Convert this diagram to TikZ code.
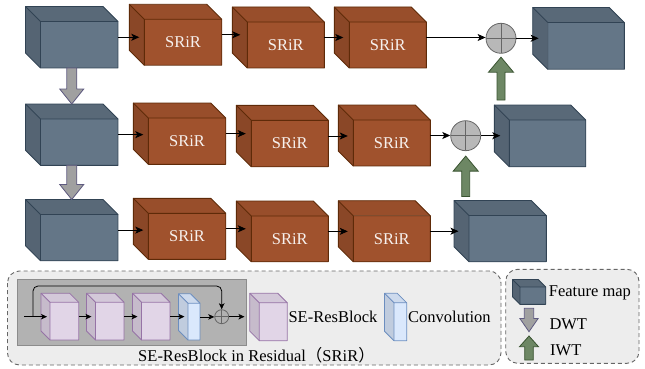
\documentclass[tikz,border=0pt]{standalone}
\usepackage{fontspec}
\setmainfont{Liberation Serif}
\newfontfamily\cjk{Noto Sans CJK SC}
\usetikzlibrary{arrows.meta,calc}
\definecolor{fmc}{HTML}{647687}
\definecolor{fmd}{HTML}{314354}
\definecolor{src}{HTML}{A0522D}
\definecolor{srd}{HTML}{5E2A08}
\definecolor{puc}{HTML}{E1D5E7}
\definecolor{pud}{HTML}{9673A6}
\definecolor{blc}{HTML}{DAE8FC}
\definecolor{bld}{HTML}{6C8EBF}
\definecolor{grc}{HTML}{6D8764}
\definecolor{grd}{HTML}{3A5431}
\definecolor{gyc}{HTML}{A0A0A0}
\definecolor{gyd}{HTML}{5E5A80}
\tikzset{
  fmleft/.style={fill=fmc!85!black}, fmtop/.style={fill=fmc!89!black}, fmfront/.style={fill=fmc},
  fmline/.style={draw=fmd, line width=0.9pt, line join=round}, fmtext/.style={},
  srleft/.style={fill=src!86!black}, srtop/.style={fill=src!95!black}, srfront/.style={fill=src},
  srline/.style={draw=srd, line width=0.9pt, line join=round},
  srtext/.style={text=white!92!src, font=\fontsize{16.5}{18}\selectfont, inner sep=0pt},
  puleft/.style={fill=puc!88!black}, putop/.style={fill=puc!94!black}, pufront/.style={fill=puc},
  puline/.style={draw=pud, line width=0.8pt, line join=round}, putext/.style={},
  blleft/.style={fill=blc!88!black}, bltop/.style={fill=blc!94!black}, blfront/.style={fill=blc},
  blline/.style={draw=bld, line width=0.8pt, line join=round}, bltext/.style={},
  conn/.style={-{Stealth[length=8pt,width=7pt,inset=2pt]}, line width=0.9pt},
  sconn/.style={-{Stealth[length=6pt,width=5.5pt,inset=1.5pt]}, line width=0.8pt},
  plus/.style={circle, draw=black!60, fill=black!28, line width=0.8pt, minimum size=30pt, inner sep=0pt,
    path picture={\draw[black!60, line width=0.8pt] (path picture bounding box.north) -- (path picture bounding box.south)
      (path picture bounding box.west) -- (path picture bounding box.east);}},
  smallplus/.style={plus, minimum size=14pt, fill=black!30},
  iwt/.style={fill=grc, draw=grd, line width=0.8pt, line join=miter},
  dwt/.style={fill=gyc, draw=gyd, line width=0.8pt, line join=miter},
  panelbox/.style={fill=black!7, draw=black!60, dashed, dash pattern=on 4pt off 3pt, line width=0.9pt, rounded corners=12pt},
  innerbox/.style={fill=black!30, draw=black!45, line width=0.8pt},
  lbl/.style={font=\fontsize{16.5}{18}\selectfont, inner sep=0pt}
}
% name, x1, y1, x2, y2 (front face), depth, style prefix, label
\newcommand\cubebox[8]{%
  \path[#7left] (#2,#3) -- ({#2-#6},{#3-#6}) -- ({#2-#6},{#5-#6}) -- (#2,#5) -- cycle;
  \path[#7top] (#2,#3) -- ({#2-#6},{#3-#6}) -- ({#4-#6},{#3-#6}) -- (#4,#3) -- cycle;
  \path[#7front] (#2,#3) rectangle (#4,#5);
  \draw[#7line] ({#2-#6},{#3-#6}) -- ({#4-#6},{#3-#6}) -- (#4,#3) -- (#4,#5) -- (#2,#5) -- ({#2-#6},{#5-#6}) -- cycle;
  \draw[#7line] ({#2-#6},{#3-#6}) -- (#2,#3) -- (#4,#3) (#2,#3) -- (#2,#5);
  \node[inner sep=0pt, outer sep=0pt, minimum width={#4-#2+#6}, minimum height={#5-#3+#6}] (#1) at ({(#2-#6+#4)/2},{(#3-#6+#5)/2}) {};
  \if\relax\detokenize{#8}\relax\else
    \node[#7text] (#1-t) at ({(#2+#4)/2},{(#3+#5)/2}) {#8};
  \fi
}
% start, tip, half shaft, half head, head offset from tip, style
\newcommand\vblock[6]{%
  \draw[#6] ($(#1)+(-#3,0)$) -- ($(#2)+(-#3,#5)$) -- ($(#2)+(-#4,#5)$) -- (#2) -- ($(#2)+(#4,#5)$) -- ($(#2)+(#3,#5)$) -- ($(#1)+(#3,0)$) -- cycle;
}
\begin{document}
\begin{tikzpicture}[x=1pt,y=-1pt]
\useasboundingbox (0,0) rectangle (645,369);
% row 1
\cubebox{f1}{40.5}{21.5}{118}{68}{15}{fm}{}
\cubebox{s11}{144.3}{19.3}{221.7}{65.3}{15}{sr}{SRiR}
\cubebox{s12}{247.3}{22}{324.3}{68}{15}{sr}{SRiR}
\cubebox{s13}{349.3}{22}{426.3}{68}{15}{sr}{SRiR}
\cubebox{o1}{547.7}{22.5}{624.3}{69.3}{15}{fm}{}
\node[plus] (p1) at (501,38.3) {};
% row 2
\cubebox{f2}{40.5}{119}{118}{165.3}{15}{fm}{}
\cubebox{s21}{148.3}{118}{225.7}{164.3}{15}{sr}{SRiR}
\cubebox{s22}{251.3}{120.3}{328.3}{166.7}{15}{sr}{SRiR}
\cubebox{s23}{353.3}{120}{430.3}{166}{15}{sr}{SRiR}
\cubebox{o2}{509.3}{120}{585.7}{166.7}{15}{fm}{}
\node[plus] (p2) at (465.7,135.7) {};
% row 3
\cubebox{f3}{40.5}{214.5}{118}{260.7}{15}{fm}{}
\cubebox{s31}{148.3}{213.3}{225.7}{259.3}{15}{sr}{SRiR}
\cubebox{s32}{251.3}{216}{328.3}{261.7}{15}{sr}{SRiR}
\cubebox{s33}{353.3}{215.7}{430.3}{261.7}{15}{sr}{SRiR}
\cubebox{o3}{469}{215.5}{546.3}{261.7}{15}{fm}{}
% connectors row 1
\draw[conn] (f1.east) -- ($(f1.east -| s11.west)+(10,0)$);
\draw[conn] (s11.east) -- ($(s11.east -| s12.west)+(8,0)$);
\draw[conn] (s12.east) -- ($(s12.east -| s13.west)+(9,0)$);
\draw[conn] (s13.east) -- (s13.east -| p1.west);
\draw[conn] (p1.east) -- ($(p1.east -| o1.west)+(6,0)$);
% connectors row 2
\draw[conn] (f2.east) -- ($(f2.east -| s21.west)+(10,0)$);
\draw[conn] (s21.east) -- ($(s21.east -| s22.west)+(9.5,0)$);
\draw[conn] (s22.east) -- ($(s22.east -| s23.west)+(9.5,0)$);
\draw[conn] (s23.east) -- (s23.east -| p2.west);
\draw[conn] (p2.east) -- ($(p2.east -| o2.west)+(6,0)$);
% connectors row 3
\draw[conn] (f3.east) -- ($(f3.east -| s31.west)+(10,0)$);
\draw[conn] (s31.east) -- ($(s31.east -| s32.west)+(9.5,0)$);
\draw[conn] (s32.east) -- ($(s32.east -| s33.west)+(9.5,0)$);
\draw[conn] (s33.east) -- ($(s33.east -| o3.west)+(4.5,0)$);
% DWT arrows
\coordinate (d1s) at (f1.south);
\coordinate (d1t) at (f1.south |- f2.north);
\vblock{d1s}{d1t}{5}{12}{-15}{dwt}
\coordinate (d2s) at (f2.south);
\coordinate (d2t) at (f2.south |- f3.north);
\vblock{d2s}{d2t}{5}{12}{-15}{dwt}
% IWT arrows
\coordinate (g1s) at ($(p1 |- o2.north)+(0,-5)$);
\coordinate (g1t) at ($(p1.south)+(0,3.5)$);
\vblock{g1s}{g1t}{4}{12.5}{15}{iwt}
\coordinate (g2s) at ($(p2 |- o3.north)+(0,-4)$);
\coordinate (g2t) at ($(p2.south)+(0,5)$);
\vblock{g2s}{g2t}{4}{12.5}{15}{iwt}
% bottom-left panel
\draw[panelbox] (7.5,271) rectangle (501,365);
\draw[innerbox] (17.3,279.3) rectangle (246,345);
\cubebox{c1}{50}{302.3}{78.7}{340}{9}{pu}{}
\cubebox{c2}{95.5}{302.3}{124}{340}{9}{pu}{}
\cubebox{c3}{141.5}{302.3}{170}{340}{9}{pu}{}
\cubebox{cv}{188}{303.3}{200}{340}{9.5}{bl}{}
\node[smallplus] (pc) at (221.7,316.7) {};
\coordinate (in) at (24,316.7);
\coordinate (sk) at (33,316.7);
\coordinate (out) at (244.5,316.7);
\draw[sconn] (in) -- ($(in -| c1.west)+(6,0)$);
\draw[sconn] (c1.east) -- ($(c1.east -| c2.west)+(5,0)$);
\draw[sconn] (c2.east) -- ($(c2.east -| c3.west)+(5,0)$);
\draw[sconn] (c3.east) -- ($(c3.east -| cv.west)+(6,0)$);
\draw[sconn] (cv.east) -- (cv.east -| pc.west);
\draw[sconn] (pc.east) -- (out);
\draw[sconn, rounded corners=5pt] (sk) -- ++(0,-30.7) -| (pc.north);
\cubebox{lc1}{259.3}{302.8}{287.3}{340.7}{9.5}{pu}{}
\node[lbl, anchor=west] (t1) at (288.3,317) {SE-ResBlock};
\cubebox{lcv}{394}{302.8}{406.7}{340.7}{9.5}{bl}{}
\node[lbl, anchor=west] (t2) at (408,317) {Convolution};
\node[lbl] (cap) at (256.5,355) {SE-ResBlock in Residual{\cjk （}SRiR{\cjk ）}};
% right legend
\draw[panelbox] (505.7,269.3) rectangle (639,363.3);
\cubebox{lfm}{520}{287}{545.7}{304.3}{7.5}{fm}{}
\node[lbl, anchor=west] (t3) at (548.7,293.3) {Feature map};
\coordinate (ld1) at (529,308.3);
\coordinate (ld2) at (529,331.7);
\vblock{ld1}{ld2}{4.7}{9.2}{-13.3}{dwt}
\node[lbl, anchor=west] (t4) at (549.3,324) {DWT};
\coordinate (li1) at (529,360);
\coordinate (li2) at (529,336);
\vblock{li1}{li2}{4.3}{9.5}{10.7}{iwt}
\node[lbl, anchor=west] (t5) at (550,350.7) {IWT};
\end{tikzpicture}
\end{document}
